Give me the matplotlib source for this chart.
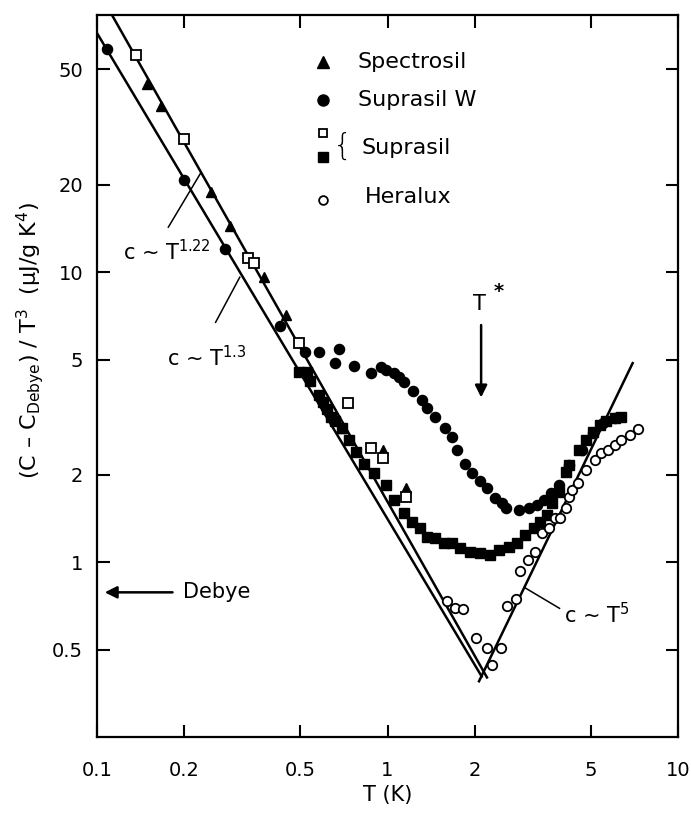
import matplotlib
matplotlib.use("Agg")
import matplotlib.pyplot as plt
from matplotlib.ticker import FixedLocator, FixedFormatter, NullLocator

plt.rcParams['font.family'] = ['DejaVu Sans']
plt.rcParams['mathtext.default'] = 'regular'

# ---------------- data (T in K, (C - C_Debye)/T^3 in uJ/gK^4) ----------------
spectrosil_T = [0.149, 0.1665, 0.246, 0.288, 0.375, 0.447, 0.615, 0.693, 0.962, 1.154]
spectrosil_y = [44.5, 37.4, 18.9, 14.4, 9.6, 7.1, 3.48, 2.90, 2.43, 1.80]

suprasil_open_T = [0.1365, 0.1985, 0.330, 0.347, 0.496, 0.733, 0.880, 0.962, 1.154]
suprasil_open_y = [56.0, 28.7, 11.2, 10.8, 5.69, 3.53, 2.47, 2.28, 1.675]

suprasilW_T = [0.1083, 0.1985, 0.275, 0.4264, 0.520, 0.582, 0.6825, 0.661, 0.769, 0.880,
               0.953, 0.992, 1.049, 1.091, 1.136, 1.221, 1.311, 1.365, 1.454, 1.575,
               1.666, 1.733, 1.847, 1.953, 2.081, 2.201, 2.346, 2.48, 2.56, 2.84,
               3.075, 3.28, 3.47, 3.64, 3.88, 4.23, 4.69, 5.08, 5.50, 6.05]
suprasilW_y = [58.7, 20.8, 12.0, 6.51, 5.30, 5.30, 5.43, 4.86, 4.74, 4.48,
               4.70, 4.59, 4.48, 4.34, 4.18, 3.89, 3.62, 3.40, 3.16, 2.90,
               2.70, 2.43, 2.19, 2.03, 1.90, 1.80, 1.66, 1.60, 1.535, 1.51,
               1.535, 1.573, 1.636, 1.73, 1.84, 2.16, 2.43, 2.79, 3.02, 3.14]

suprasil_fill_T = [0.496, 0.528, 0.541, 0.582, 0.6005, 0.620, 0.640, 0.661, 0.699, 0.739,
                   0.781, 0.833, 0.895, 0.992, 1.049, 1.136, 1.211, 1.290, 1.365, 1.454,
                   1.563, 1.666, 1.775, 1.922, 2.081, 2.254, 2.42, 2.62, 2.796, 2.98,
                   3.20, 3.357, 3.55, 3.69, 3.88, 4.10, 4.23, 4.58, 4.81, 5.08,
                   5.37, 5.64, 6.05, 6.35]
suprasil_fill_y = [4.52, 4.52, 4.21, 3.77, 3.56, 3.37, 3.16, 3.06, 2.90, 2.63,
                   2.40, 2.19, 2.03, 1.84, 1.636, 1.476, 1.374, 1.31, 1.22, 1.21,
                   1.17, 1.163, 1.118, 1.083, 1.074, 1.057, 1.10, 1.126, 1.17, 1.239,
                   1.31, 1.374, 1.453, 1.60, 1.744, 2.04, 2.16, 2.43, 2.63, 2.81,
                   2.97, 3.06, 3.14, 3.16]

heralux_T = [1.60, 1.705, 1.818, 2.016, 2.201, 2.46, 2.29, 2.58, 2.77, 2.86,
             3.05, 3.23, 3.41, 3.61, 3.78, 3.91, 4.10, 4.23, 4.33, 4.51,
             4.81, 5.16, 5.41, 5.73, 6.05, 6.35, 6.82, 7.27]
heralux_y = [0.734, 0.694, 0.689, 0.547, 0.505, 0.505, 0.4415, 0.705, 0.745, 0.931,
             1.016, 1.083, 1.259, 1.31, 1.418, 1.418, 1.535, 1.675, 1.771, 1.873,
             2.076, 2.247, 2.376, 2.43, 2.53, 2.63, 2.74, 2.87]

# fitted power-law lines (end points)
fit122_T = [0.1127, 2.20]
fit122_y = [76.9, 0.401]
fit13_T = [0.1, 2.11]
fit13_y = [66.7, 0.404]
fit5_T = [2.065, 6.98]
fit5_y = [0.389, 4.86]

x_ticks = [0.1, 0.2, 0.5, 1, 2, 5, 10]
x_ticklabels = ["0.1", "0.2", "0.5", "1", "2", "5", "10"]
y_ticks = [0.5, 1, 2, 5, 10, 20, 50]
y_ticklabels = ["0.5", "1", "2", "5", "10", "20", "50"]

# ---------------- figure ----------------
fig = plt.figure(figsize=(6.91, 8.13), dpi=100)
ax = fig.add_axes([0.1404, 0.0935, 0.8408, 0.888])
ax.set_xscale('log')
ax.set_yscale('log')
ax.set_xlim(0.1, 10)
ax.set_ylim(0.25, 77)

lw_fit = 1.8
ax.plot(fit122_T, fit122_y, color='black', lw=lw_fit, zorder=2)
ax.plot(fit13_T, fit13_y, color='black', lw=lw_fit, zorder=2)
ax.plot(fit5_T, fit5_y, color='black', lw=lw_fit, zorder=2)

ax.plot(suprasil_fill_T, suprasil_fill_y, 's', ms=6.8, color='black', mec='black', zorder=3)
ax.plot(suprasilW_T, suprasilW_y, 'o', ms=7.3, color='black', mec='black', zorder=3)
ax.plot(spectrosil_T, spectrosil_y, '^', ms=7.5, color='black', mec='black', zorder=4)
ax.plot(suprasil_open_T, suprasil_open_y, 's', ms=6.8, mfc='white', mec='black', mew=1.3, zorder=4)
ax.plot(heralux_T, heralux_y, 'o', ms=6.8, mfc='white', mec='black', mew=1.3, zorder=4)

# axes styling
for s in ax.spines.values():
    s.set_linewidth(1.6)
ax.xaxis.set_major_locator(FixedLocator(x_ticks))
ax.xaxis.set_major_formatter(FixedFormatter(x_ticklabels))
ax.yaxis.set_major_locator(FixedLocator(y_ticks))
ax.yaxis.set_major_formatter(FixedFormatter(y_ticklabels))
ax.xaxis.set_minor_locator(NullLocator())
ax.yaxis.set_minor_locator(NullLocator())
ax.tick_params(which='major', direction='in', length=9, width=1.5,
               top=True, right=True, labelsize=14)
ax.tick_params(axis='x', pad=17)
ax.tick_params(axis='y', pad=10)

ax.set_xlabel('T (K)', fontsize=15, labelpad=4)
fig.text(30 / 691, 1 - 340 / 813, '(C – C$_{Debye}$) / T$^3$  (μJ/g K$^4$)',
         fontsize=16, rotation=90, ha='center', va='center')

# legend drawn by hand
tr = ax.transAxes
lx = 0.389
ax.plot([lx], [0.935], '^', ms=8, color='black', transform=tr, clip_on=False)
ax.plot([lx], [0.882], 'o', ms=8, color='black', transform=tr, clip_on=False)
ax.plot([lx], [0.8366], 's', ms=6.3, mfc='white', mec='black', mew=1.3, transform=tr, clip_on=False)
ax.plot([lx], [0.803], 's', ms=6.5, color='black', transform=tr, clip_on=False)
ax.plot([lx], [0.744], 'o', ms=6.3, mfc='white', mec='black', mew=1.3, transform=tr, clip_on=False)
fs_leg = 16
ax.text(0.449, 0.935, 'Spectrosil', transform=tr, fontsize=fs_leg, va='center', ha='left')
ax.text(0.449, 0.882, 'Suprasil W', transform=tr, fontsize=fs_leg, va='center', ha='left')
ax.text(0.4234, 0.818, '{', transform=tr, fontsize=22, va='center', ha='center', fontweight='light')
ax.text(0.456, 0.816, 'Suprasil', transform=tr, fontsize=fs_leg, va='center', ha='left')
ax.text(0.461, 0.748, 'Heralux', transform=tr, fontsize=fs_leg, va='center', ha='left')

# annotations
fs_ann = 15
ax.plot([0.176, 0.227], [14.3, 21.9], color='black', lw=1.1)
ax.text(0.123, 13.0, 'c ~ T$^{1.22}$', fontsize=fs_ann, ha='left', va='top')
ax.plot([0.256, 0.310], [6.72, 9.61], color='black', lw=1.1)
ax.text(0.1746, 5.6, 'c ~ T$^{1.3}$', fontsize=fs_ann, ha='left', va='top')
ax.plot([3.91, 2.955], [0.694, 0.820], color='black', lw=1.1)
ax.text(4.05, 0.73, 'c ~ T$^{5}$', fontsize=fs_ann, ha='left', va='top')

ax.annotate('', xy=(0.104, 0.788), xytext=(0.186, 0.788),
            arrowprops=dict(arrowstyle='-|>', color='black', lw=1.8,
                            mutation_scale=18))
ax.text(0.197, 0.788, 'Debye', fontsize=fs_ann, ha='left', va='center')

ax.annotate('', xy=(2.10, 3.62), xytext=(2.10, 6.72),
            arrowprops=dict(arrowstyle='-|>', color='black', lw=1.8,
                            mutation_scale=18))
ax.text(2.08, 7.2, 'T', fontsize=fs_ann, ha='center', va='bottom')
ax.text(2.42, 8.6, '*', fontsize=14, ha='center', va='center', fontweight='bold')

fig.savefig('out.png', dpi=100)
